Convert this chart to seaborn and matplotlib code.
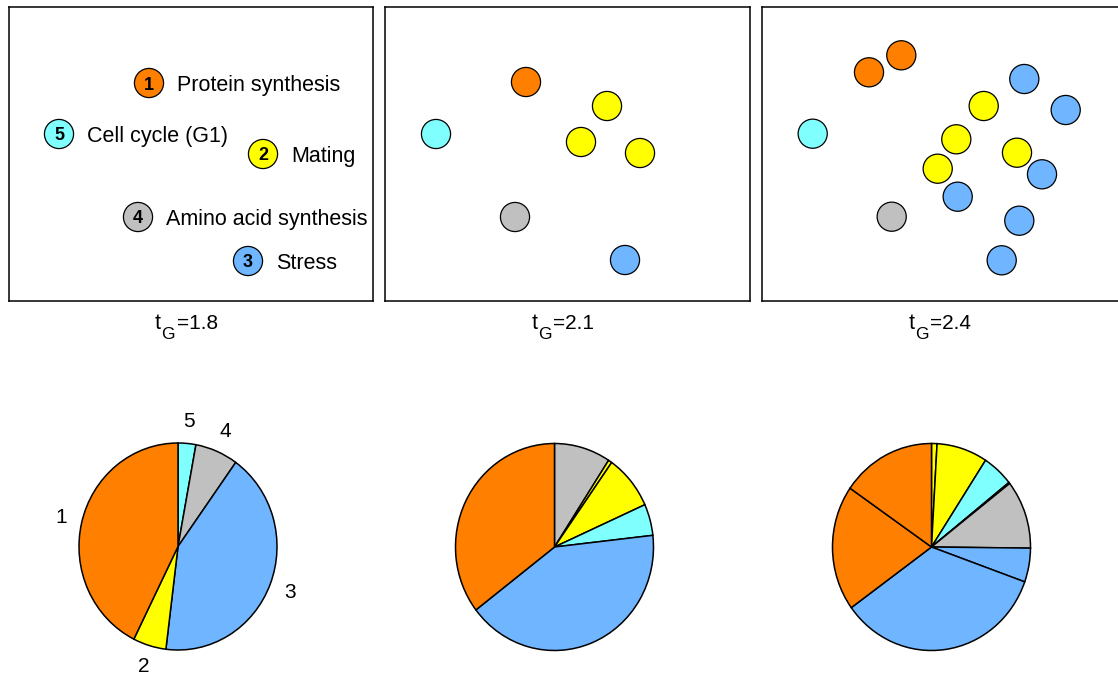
import matplotlib
matplotlib.use("Agg")
import matplotlib.pyplot as plt
import seaborn as sns
import pandas as pd

# Functional categories: colour and number
cat_names = ["Protein synthesis", "Mating", "Stress", "Amino acid synthesis", "Cell cycle (G1)"]
cat_ids = ["1", "2", "3", "4", "5"]
cat_colors = ["#FF7F00", "#FFFF00", "#70B5FF", "#C0C0C0", "#80FFFF"]

# Cluster positions in the layout plane, one list per threshold
thresholds = ["1.8", "2.1", "2.4"]

p1_x = [140.5, 254.5, 239.5, 129.5, 50.5]
p1_y = [76, 147, 254, 210, 127]
p1_cat = ["1", "2", "3", "4", "5"]

p2_x = [141, 222, 196, 255, 240, 130, 51]
p2_y = [75, 99, 135, 146, 253, 210, 127]
p2_cat = ["1", "2", "2", "2", "3", "4", "5"]

p3_x = [107, 139.3, 221.7, 194.3, 175.7, 255, 262.3, 303.7, 280, 195.7, 257.3, 239.7, 129.7, 50.7]
p3_y = [65.3, 48.3, 99, 132.3, 161.7, 145.7, 72, 103, 167.3, 189.7, 213.7, 253.3, 209.7, 126.7]
p3_cat = ["1", "1", "2", "2", "2", "2", "3", "3", "3", "3", "3", "3", "4", "5"]

# Share of genes per cluster (percent), listed clockwise from 12 o'clock
pie1_vals = [2.9, 7.0, 42.0, 5.4, 42.6]
pie1_cat = ["5", "4", "3", "2", "1"]

pie2_vals = [9.2, 0.6, 8.5, 4.9, 41.4, 35.4]
pie2_cat = ["4", "2", "2", "5", "3", "1"]

pie3_vals = [0.9, 8.3, 5.1, 0.2, 10.7, 5.3, 34.6, 19.6, 15.4]
pie3_cat = ["2", "2", "5", "4", "4", "3", "3", "1", "1"]

sns.set_theme(style="white")
plt.rcParams["font.family"] = ["Liberation Sans", "DejaVu Sans"]
plt.rcParams["text.color"] = "black"

W, H = 1118, 677
fig = plt.figure(figsize=(W / 100, H / 100), dpi=100)
palette = dict(zip(cat_ids, cat_colors))


def px_axes(left, top, width, height):
    return fig.add_axes([left / W, (H - top - height) / H, width / W, height / H])


def pt(px):
    return px * 72 / 100


panel_w, panel_h = 364.5, 294.5
panel_left = [8.5, 385, 762]
panels = [(p1_x, p1_y, p1_cat), (p2_x, p2_y, p2_cat), (p3_x, p3_y, p3_cat)]

for i, (xs, ys, cs) in enumerate(panels):
    ax = px_axes(panel_left[i], 7, panel_w, panel_h)
    df = pd.DataFrame({"x": xs, "y": ys, "cat": cs})
    sns.scatterplot(data=df, x="x", y="y", hue="cat", palette=palette, s=440,
                    edgecolor="black", linewidth=0.9, legend=False, ax=ax, zorder=3)
    ax.set_xlim(0, panel_w)
    ax.set_ylim(panel_h, 0)
    ax.set_xticks([])
    ax.set_yticks([])
    ax.set_xlabel("")
    ax.set_ylabel("")
    for sp in ax.spines.values():
        sp.set_visible(True)
        sp.set_color("black")
        sp.set_linewidth(1.1)

    # threshold caption: t with subscript G, then the value
    anchor = (panel_w / 2, panel_h)
    x0 = -36
    ax.annotate("t", anchor, xytext=(pt(x0), pt(-28)), textcoords="offset points",
                ha="left", va="baseline", fontsize=15.5, annotation_clip=False)
    ax.annotate("G", anchor, xytext=(pt(x0 + 6.5), pt(-37.5)), textcoords="offset points",
                ha="left", va="baseline", fontsize=12.5, annotation_clip=False)
    ax.annotate("=" + thresholds[i], anchor, xytext=(pt(x0 + 22), pt(-28)),
                textcoords="offset points", ha="left", va="baseline", fontsize=15,
                annotation_clip=False)

    if i == 0:
        for x, y, c in zip(xs, ys, cs):
            ax.annotate(c, (x, y), xytext=(0, pt(-6.5)), textcoords="offset points",
                        ha="center", va="baseline", fontsize=13,
                        fontweight="bold", zorder=4)
            ax.annotate(cat_names[cat_ids.index(c)], (x, y), xytext=(pt(28), pt(-8)),
                        textcoords="offset points", ha="left", va="baseline",
                        fontsize=15.5)

# Pie charts of cluster composition
pie_cx = [178, 554.5, 931.5]
pie_cy = [546.5, 547, 547]
rx, ry = 99, 103.5
pies = [(pie1_vals, pie1_cat), (pie2_vals, pie2_cat), (pie3_vals, pie3_cat)]

for i, (vals, cats) in enumerate(pies):
    ax = px_axes(pie_cx[i] - 1.25 * rx, pie_cy[i] - 1.25 * ry, 2.5 * rx, 2.5 * ry)
    labels = cats if i == 0 else None
    ax.pie(vals, labels=labels, colors=[palette[c] for c in cats],
           startangle=90, counterclock=False, labeldistance=1.21,
           wedgeprops=dict(edgecolor="black", linewidth=1.1),
           textprops=dict(fontsize=15, ha="center", va="center", color="black"))
    ax.set_aspect("auto")
    ax.set_xlim(-1.25, 1.25)
    ax.set_ylim(-1.25, 1.25)
    ax.axis("off")

fig.savefig("out.png", dpi=100)
